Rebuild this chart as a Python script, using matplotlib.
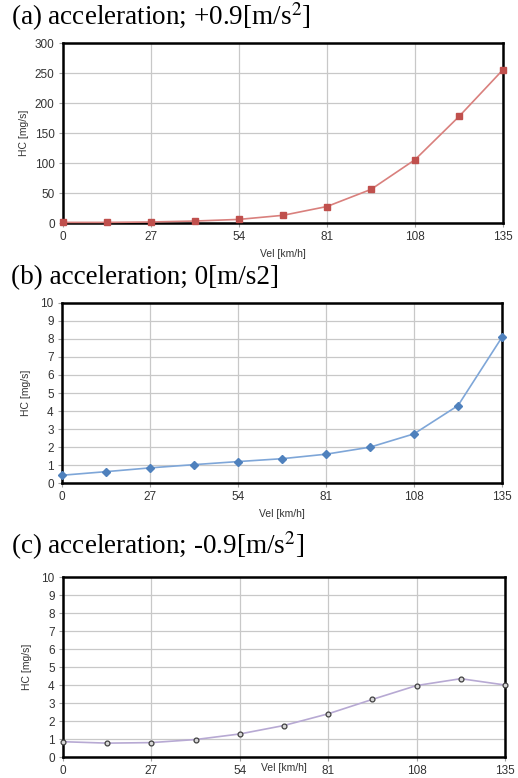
import matplotlib
matplotlib.use("Agg")
import matplotlib.pyplot as plt

plt.rcParams['mathtext.fontset'] = 'stix'

vel = [0, 13.5, 27, 40.5, 54, 67.5, 81, 94.5, 108, 121.5, 135]
hc_a = [1, 1, 1.7, 3.3, 6, 12.8, 27.5, 56, 105.5, 177.5, 255.5]
hc_b = [0.43, 0.63, 0.84, 1.02, 1.19, 1.35, 1.6, 1.99, 2.73, 4.3, 8.1]
hc_c = [0.85, 0.77, 0.8, 0.97, 1.28, 1.75, 2.4, 3.2, 3.97, 4.35, 4.0]
xticks = [0, 27, 54, 81, 108, 135]
titles = [r"(a) acceleration; +0.9[m/s$^2$]",
          r"(b) acceleration; 0[m/s2]",
          r"(c) acceleration; -0.9[m/s$^2$]"]

W, H = 518, 778
fig = plt.figure(figsize=(W/100, H/100), dpi=100)

def add_ax(l, t, r, b):
    return fig.add_axes([l/W, 1-b/H, (r-l)/W, (b-t)/H])

sans = 'Liberation Sans'
tickcol = '#333333'

def style(ax, ymax, ystep, ylabel_x):
    ax.set_xlim(0, 135)
    ax.set_ylim(0, ymax)
    ax.set_xticks(xticks)
    ax.set_yticks([i*ystep for i in range(int(round(ymax/ystep))+1)])
    ax.grid(True, color='#c8c8c8', linewidth=0.9)
    ax.set_axisbelow(True)
    for s in ax.spines.values():
        s.set_linewidth(1.8)
        s.set_color('black')
    ax.tick_params(axis='both', length=3, width=0.8, color='#a0a0a0',
                   labelsize=8.5, labelcolor=tickcol, pad=3)
    for lab in ax.get_xticklabels() + ax.get_yticklabels():
        lab.set_family(sans)
    ax.set_ylabel("HC [mg/s]", fontsize=7.5, family=sans, color=tickcol)
    ax.yaxis.set_label_coords(ylabel_x, 0.5)

# (a)
ax1 = add_ax(63, 43, 503, 223)
ax1.plot(vel, hc_a, color='#d9807d', linewidth=1.2, marker='s', markersize=5,
         markerfacecolor='#c0504d', markeredgecolor='#c0504d', clip_on=False, zorder=3)
style(ax1, 300, 50, -0.078)
ax1.set_xlabel("Vel [km/h]", fontsize=7.5, family=sans, color=tickcol, labelpad=4)

# (b)
ax2 = add_ax(62, 303, 502, 483)
ax2.plot(vel, hc_b, color='#7ea6d8', linewidth=1.2, marker='D', markersize=4,
         markerfacecolor='#4f81bd', markeredgecolor='#4f81bd', clip_on=False, zorder=3)
style(ax2, 10, 1, -0.07)
ax2.set_xlabel("Vel [km/h]", fontsize=7.5, family=sans, color=tickcol, labelpad=4)

# (c)
ax3 = add_ax(63, 577, 505, 757)
ax3.plot(vel, hc_c, color='#b7a9d3', linewidth=1.2, marker='o', markersize=3.5,
         markerfacecolor='#d8d8d8', markeredgecolor='#404040', markeredgewidth=0.9,
         clip_on=False, zorder=3)
style(ax3, 10, 1, -0.07)
fig.text(284/W, 1-768/H, "Vel [km/h]", fontsize=7.5, family=sans, color=tickcol,
         ha='center', va='center')

for y, t in zip([17, 278, 546], titles):
    fig.text(11/W, 1-y/H, t, fontsize=19.5, family='Liberation Serif',
             ha='left', va='center')

fig.savefig("out.png", dpi=100)
